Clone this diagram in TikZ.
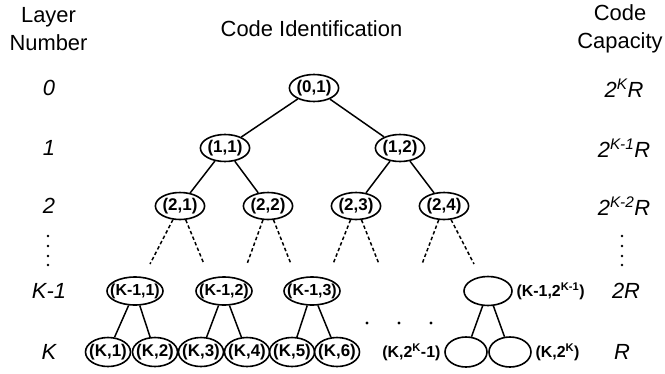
\documentclass[tikz,border=0pt]{standalone}
\usepackage{fontspec}
\setmainfont{Liberation Sans}
\usetikzlibrary{positioning,shapes.geometric}
\tikzset{
  every picture/.append style={line width=1.5pt},
}

\begin{document}
\begin{tikzpicture}[x=1bp, y=-1bp,
  code/.style={ellipse, draw, line width=1.6pt, inner sep=0pt,
               minimum width=47bp, minimum height=27bp,
               font=\fontsize{17}{18}\selectfont\bfseries},
  codem/.style={code, inner xsep=-5pt, minimum width=52bp, minimum height=28bp,
               font=\fontsize{16}{17}\selectfont\bfseries},
  codek/.style={code, inner xsep=-3pt, minimum width=45bp, minimum height=29bp},
  tag/.style={font=\fontsize{16}{17}\selectfont\bfseries, inner sep=1pt},
  layer/.style={font=\fontsize{22}{24}\selectfont\itshape},
  head/.style={font=\fontsize{22}{27.5}\selectfont, align=center},
  branch/.style={line width=1.5pt},
  more/.style={line width=1.5pt, dash pattern=on 3.5bp off 2.5bp},
  dot/.style={circle, fill, inner sep=0pt, minimum size=2.6bp},
]
\useasboundingbox (0,0) rectangle (665,373);

% Headings
\node[head] (hlayer) at (48.5,29) {Layer\\Number};
\node[head] (hcode) at (311.5,29) {Code Identification};
\node[head] (hcap) at (620,29) {Code\\Capacity};

% Layer numbers
\node[layer] (l0) at (49,88) {0};
\node[layer] (l1) at (49,148) {1};
\node[layer] (l2) at (49,206) {2};
\node[layer] (lm) at (49,291) {K-1};
\node[layer] (lk) at (49,352) {K};
\foreach \y in {236,246,256,265}
  \node[dot] (ldot\y) at (48,\y) {};

% Code capacities
\node[layer] (r0) at (624,88) {2\textsuperscript{K}R};
\node[layer] (r1) at (624,148) {2\textsuperscript{K-1}R};
\node[layer] (r2) at (624,206) {2\textsuperscript{K-2}R};
\node[layer] (rm) at (626,291) {2R};
\node[layer] (rk) at (622,352) {R};
\foreach \y in {236,246,256,265}
  \node[dot] (rdot\y) at (622,\y) {};

% Code tree, upper layers
\node[code] (n01) at (314,88) {(0,1)};
\node[code] (n11) at (225,148) {(1,1)};
\node[code] (n12) at (400,148) {(1,2)};
\foreach \i/\x in {1/180,2/268,3/356,4/444}
  \node[code] (n2\i) at (\x,206) {(2,\i)};

\draw[branch] (n01) -- (n11);
\draw[branch] (n01) -- (n12);
\draw[branch] (n11) -- (n21);
\draw[branch] (n11) -- (n22);
\draw[branch] (n12) -- (n23);
\draw[branch] (n12) -- (n24);

% Dashed continuation below layer 2
\foreach \i/\a/\b in {1/150/204,2/247/291,3/333/379,4/422/474} {
  \coordinate (e\i a) at (\a,264);
  \coordinate (e\i b) at (\b,264);
  \draw[more] (n2\i) -- (e\i a);
  \draw[more] (n2\i) -- (e\i b);
}

% Layers K-1 and K
\foreach \i/\x in {1/135,2/224,3/312}
  \node[codem] (nm\i) at (\x,291) {(K-1,\i)};
\foreach \i/\x in {1/108,2/155,3/201,4/247,5/292,6/337}
  \node[codek] (nk\i) at (\x,352) {(K,\i)};
\foreach \i in {1,2,3} {
  \pgfmathtruncatemacro\l{2*\i-1}
  \pgfmathtruncatemacro\r{2*\i}
  \draw[branch] (nm\i) -- (nk\l);
  \draw[branch] (nm\i) -- (nk\r);
}

\node[code, minimum width=48bp, minimum height=29bp] (nmlast) at (488,291) {};
\node[code, minimum width=42bp, minimum height=30bp] (nka) at (466,352) {};
\node[code, minimum width=42bp, minimum height=30bp] (nkb) at (510,352) {};
\draw[branch] (nmlast) -- (nka);
\draw[branch] (nmlast) -- (nkb);

\node[tag, right=2bp of nmlast] (tmlast) {(K-1,2\textsuperscript{K-1})};
\node[tag, left=2bp of nka] (tka) {(K,2\textsuperscript{K}-1)};
\node[tag, right=2bp of nkb] (tkb) {(K,2\textsuperscript{K})};

\foreach \x in {367,399,431}
  \node[dot, minimum size=3.2bp] (hdot\x) at (\x,323) {};

\end{tikzpicture}
\end{document}
